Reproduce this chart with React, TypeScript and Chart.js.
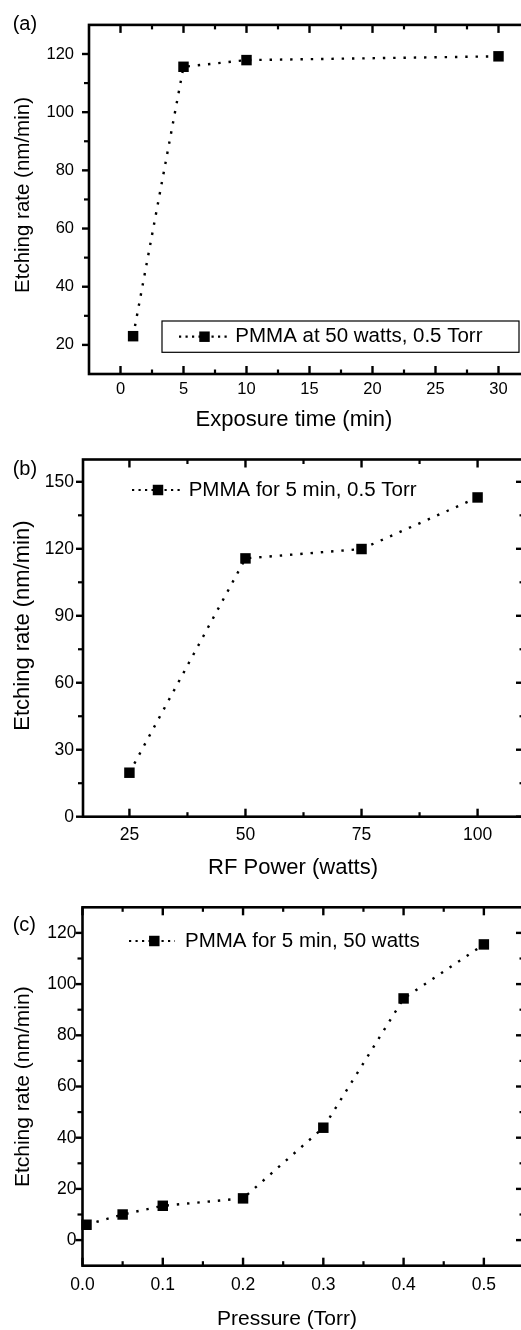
import React, { useEffect, useRef } from 'react';
import { Chart, registerables } from 'chart.js';

Chart.register(...registerables);

// ---------------- data ----------------
const EXPOSURE_TIME = [1, 5, 10, 30];
const RATE_VS_TIME = [23, 115.6, 117.9, 119.2];
const TIME_TICKS = [0, 5, 10, 15, 20, 25, 30];
const TIME_RATE_TICKS = [20, 40, 60, 80, 100, 120];

const RF_POWER = [25, 50, 75, 100];
const RATE_VS_POWER = [19.7, 115.7, 119.9, 143];
const POWER_TICKS = [25, 50, 75, 100];
const POWER_RATE_TICKS = [0, 30, 60, 90, 120, 150];

const PRESSURE = [0.005, 0.05, 0.1, 0.2, 0.3, 0.4, 0.5];
const RATE_VS_PRESSURE = [6, 10, 13.4, 16.3, 43.9, 94.4, 115.5];
const PRESSURE_TICKS = [0, 0.1, 0.2, 0.3, 0.4, 0.5];
const PRESSURE_TICK_LABELS = ['0.0', '0.1', '0.2', '0.3', '0.4', '0.5'];
const PRESSURE_RATE_TICKS = [0, 20, 40, 60, 80, 100, 120];

const LABEL_A = 'PMMA at 50 watts, 0.5 Torr';
const LABEL_B = 'PMMA for 5 min, 0.5 Torr';
const LABEL_C = 'PMMA for 5 min, 50 watts';
const Y_TITLE = 'Etching rate (nm/min)';

// ---------------- layout ----------------
const FONT = "'Liberation Sans', Arial, Helvetica, sans-serif";
const CANVAS_W = 560;

type Spec = {
  top: number;
  height: number;
  area: { left: number; right: number; top: number; bottom: number };
  xRange: [number, number];
  yRange: [number, number];
  xTicks: number[];
  xLabels: string[];
  yTicks: number[];
  yLabels: string[];
  xs: number[];
  ys: number[];
  label: string;
  letter: string;
  xTitle: string;
  tickFont: number;
  xPad: number;
  yPad: number;
  letterPos: [number, number];
  yTitlePos: [number, number, number];
  xTitlePos: [number, number, number];
  legend: {
    box: [number, number, number, number] | null;
    line: [number, number];
    y: number;
    marker: number;
    textX: number;
    size: number;
  };
};

const PANELS: Spec[] = [
  {
    top: 0,
    height: 440,
    area: { left: 89, right: 530, top: 16, bottom: 374 },
    xRange: [-2.5, 32.5],
    yRange: [10, 130],
    xTicks: TIME_TICKS,
    xLabels: TIME_TICKS.map(String),
    yTicks: TIME_RATE_TICKS,
    yLabels: TIME_RATE_TICKS.map(String),
    xs: EXPOSURE_TIME,
    ys: RATE_VS_TIME,
    label: LABEL_A,
    letter: '(a)',
    xTitle: 'Exposure time (min)',
    tickFont: 16.5,
    xPad: 6,
    yPad: 15,
    letterPos: [12.7, 24],
    yTitlePos: [23.3, 195, 20.5],
    xTitlePos: [294, 419.5, 22],
    legend: { box: [162, 321, 519, 352.3], line: [179, 229], y: 336.7, marker: 204.5, textX: 235.3, size: 20.5 },
  },
  {
    top: 440,
    height: 440,
    area: { left: 83, right: 524, top: 458.3, bottom: 816.7 },
    xRange: [15, 110],
    yRange: [0, 160],
    xTicks: POWER_TICKS,
    xLabels: POWER_TICKS.map(String),
    yTicks: POWER_RATE_TICKS,
    yLabels: POWER_RATE_TICKS.map(String),
    xs: RF_POWER,
    ys: RATE_VS_POWER,
    label: LABEL_B,
    letter: '(b)',
    xTitle: 'RF Power (watts)',
    tickFont: 17.5,
    xPad: 8,
    yPad: 9,
    letterPos: [12.7, 469],
    yTitlePos: [23, 625.6, 22],
    xTitlePos: [293, 868.3, 22],
    legend: { box: null, line: [132, 180], y: 490, marker: 158, textX: 188.7, size: 20.5 },
  },
  {
    top: 880,
    height: 450,
    area: { left: 82.5, right: 524, top: 907.3, bottom: 1265.7 },
    xRange: [0, 0.55],
    yRange: [-10, 130],
    xTicks: PRESSURE_TICKS,
    xLabels: PRESSURE_TICK_LABELS,
    yTicks: PRESSURE_RATE_TICKS,
    yLabels: PRESSURE_RATE_TICKS.map(String),
    xs: PRESSURE,
    ys: RATE_VS_PRESSURE,
    label: LABEL_C,
    letter: '(c)',
    xTitle: 'Pressure (Torr)',
    tickFont: 17.5,
    xPad: 9,
    yPad: 6,
    letterPos: [12.7, 925],
    yTitlePos: [23, 1086.7, 21],
    xTitlePos: [287, 1319, 21],
    legend: { box: null, line: [129, 175], y: 941, marker: 154.3, textX: 185, size: 20.5 },
  },
];

const LINE_DASH = [2.4, 7.9];
const LEGEND_DASH = [2.2, 4.3];
const POINT_RADIUS = 7.4;

function minorValues(major: number[], min: number, max: number): number[] {
  const out: number[] = [];
  for (let i = 0; i < major.length - 1; i++) out.push((major[i] + major[i + 1]) / 2);
  const step = major[1] - major[0];
  const first = major[0] - step / 2;
  const last = major[major.length - 1] + step / 2;
  const eps = step * 1e-3;
  if (first > min + eps) out.push(first);
  if (last < max - eps) out.push(last);
  return out;
}

const decorPlugin = {
  id: 'decor',
  afterDraw(chart: any, _args: any, opts: any) {
    const ctx: CanvasRenderingContext2D = chart.ctx;
    const { left, right, top, bottom } = chart.chartArea;
    const xs = chart.scales.x;
    const ys = chart.scales.y;
    const off = opts.offset as number;
    ctx.save();
    ctx.strokeStyle = '#000';
    ctx.fillStyle = '#000';
    ctx.lineCap = 'butt';
    ctx.setLineDash([]);

    const seg = (x1: number, y1: number, x2: number, y2: number, w: number) => {
      ctx.lineWidth = w;
      ctx.beginPath();
      ctx.moveTo(x1, y1);
      ctx.lineTo(x2, y2);
      ctx.stroke();
    };
    const MAJ = 8;
    const MIN = 4.5;
    const majX = xs.ticks.map((t: any) => t.value);
    const majY = ys.ticks.map((t: any) => t.value);
    const minX = minorValues(majX, xs.min, xs.max);
    const minY = minorValues(majY, ys.min, ys.max);
    majX.forEach((v: number) => {
      const p = xs.getPixelForValue(v);
      seg(p, bottom, p, bottom - MAJ, 2.4);
      seg(p, top, p, top + MAJ, 2.4);
    });
    minX.forEach((v: number) => {
      const p = xs.getPixelForValue(v);
      seg(p, bottom, p, bottom - MIN, 2.2);
      seg(p, top, p, top + MIN, 2.2);
    });
    majY.forEach((v: number) => {
      const p = ys.getPixelForValue(v);
      seg(left, p, left - 7, p, 2.4);
      seg(right, p, right - MAJ, p, 2.4);
    });
    minY.forEach((v: number) => {
      const p = ys.getPixelForValue(v);
      seg(left, p, left - 5, p, 2.2);
      seg(right, p, right - MIN, p, 2.2);
    });
    // frame
    ctx.lineWidth = 2.6;
    ctx.strokeRect(left, top, right - left, bottom - top);

    // texts
    ctx.textBaseline = 'middle';
    const [lx, ly] = opts.letterPos;
    ctx.font = `20px ${FONT}`;
    ctx.textAlign = 'left';
    ctx.fillText(opts.letter, lx, ly - off);

    const [xtx, xty, xts] = opts.xTitlePos;
    ctx.font = `${xts}px ${FONT}`;
    ctx.textAlign = 'center';
    ctx.fillText(opts.xTitle, xtx, xty - off);

    const [ytx, yty, yts] = opts.yTitlePos;
    ctx.save();
    ctx.translate(ytx, yty - off);
    ctx.rotate(-Math.PI / 2);
    ctx.font = `${yts}px ${FONT}`;
    ctx.textAlign = 'center';
    ctx.fillText(opts.yTitle, 0, 0);
    ctx.restore();

    // legend
    const lg = opts.legend;
    const ds = chart.data.datasets[0];
    const y = lg.y - off;
    if (lg.box) {
      const [bl, bt, br, bb] = lg.box;
      ctx.lineWidth = 1.2;
      ctx.strokeRect(bl, bt - off, br - bl, bb - bt);
    }
    ctx.setLineDash(LEGEND_DASH);
    ctx.lineWidth = 2.2;
    ctx.beginPath();
    ctx.moveTo(lg.line[0], y);
    ctx.lineTo(lg.line[1], y);
    ctx.stroke();
    ctx.setLineDash([]);
    const half = POINT_RADIUS * Math.SQRT1_2;
    ctx.fillRect(lg.marker - half, y - half, 2 * half, 2 * half);
    ctx.font = `${lg.size}px ${FONT}`;
    ctx.textAlign = 'left';
    ctx.fillText(ds.label, lg.textX, y);
    ctx.restore();
  },
};

function Panel({ spec }: { spec: Spec }) {
  const ref = useRef<HTMLCanvasElement | null>(null);
  useEffect(() => {
    if (!ref.current) return;
    const s = spec;
    const chart = new Chart(ref.current, {
      type: 'scatter',
      data: {
        datasets: [
          {
            label: s.label,
            data: s.xs.map((x, i) => ({ x, y: s.ys[i] })),
            showLine: true,
            borderColor: '#000',
            borderWidth: 2.4,
            borderDash: LINE_DASH,
            pointStyle: 'rect',
            pointRadius: POINT_RADIUS,
            pointHoverRadius: POINT_RADIUS,
            pointBackgroundColor: '#000',
            pointBorderColor: '#000',
            pointBorderWidth: 0,
            tension: 0,
            clip: false as any,
          } as any,
        ],
      },
      options: {
        responsive: false,
        animation: false,
        devicePixelRatio: 1,
        events: [],
        layout: {
          padding: { left: 0, top: s.area.top - s.top, right: CANVAS_W - s.area.right, bottom: 0 },
        },
        plugins: {
          legend: { display: false },
          tooltip: { enabled: false },
          decor: {
            offset: s.top,
            letter: s.letter,
            letterPos: s.letterPos,
            xTitle: s.xTitle,
            xTitlePos: s.xTitlePos,
            yTitle: Y_TITLE,
            yTitlePos: s.yTitlePos,
            legend: s.legend,
          },
        } as any,
        scales: {
          x: {
            type: 'linear',
            position: 'bottom',
            min: s.xRange[0],
            max: s.xRange[1],
            afterBuildTicks: (sc: any) => {
              sc.ticks = s.xTicks.map((v) => ({ value: v }));
            },
            afterFit: (sc: any) => {
              sc.height = s.height - (s.area.bottom - s.top);
            },
            grid: { display: false, drawTicks: false },
            border: { display: false },
            ticks: {
              autoSkip: false,
              maxRotation: 0,
              minRotation: 0,
              padding: s.xPad,
              color: '#000',
              font: { family: FONT, size: s.tickFont },
              callback: (_v: any, i: number) => s.xLabels[i],
            },
          },
          y: {
            type: 'linear',
            position: 'left',
            min: s.yRange[0],
            max: s.yRange[1],
            afterBuildTicks: (sc: any) => {
              sc.ticks = s.yTicks.map((v) => ({ value: v }));
            },
            afterFit: (sc: any) => {
              sc.width = s.area.left;
            },
            grid: { display: false, drawTicks: false },
            border: { display: false },
            ticks: {
              autoSkip: false,
              padding: s.yPad,
              color: '#000',
              font: { family: FONT, size: s.tickFont },
              callback: (_v: any, i: number) => s.yLabels[i],
            },
          },
        },
      } as any,
      plugins: [decorPlugin as any],
    });
    return () => chart.destroy();
  }, [spec]);
  return (
    <canvas
      ref={ref}
      width={CANVAS_W}
      height={spec.height}
      style={{ position: 'absolute', left: 0, top: spec.top, width: CANVAS_W, height: spec.height, display: 'block' }}
    />
  );
}

export default function App() {
  return (
    <div
      style={{
        position: 'absolute',
        left: 0,
        top: 0,
        width: 521,
        height: 1330,
        overflow: 'hidden',
        background: '#fff',
      }}
    >
      {PANELS.map((p) => (
        <Panel key={p.letter} spec={p} />
      ))}
    </div>
  );
}
